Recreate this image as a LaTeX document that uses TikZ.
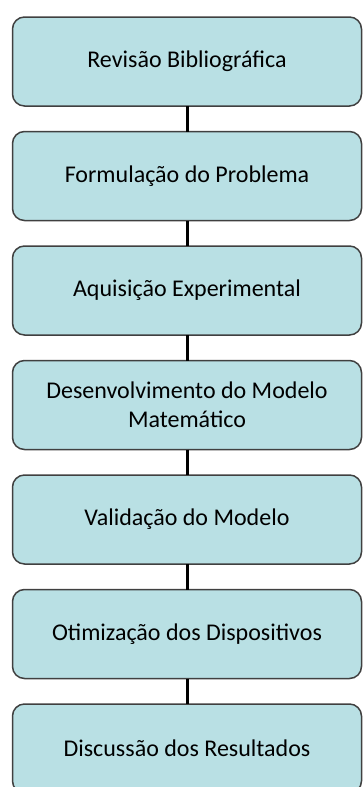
\documentclass[tikz,border=0pt]{standalone}
\usepackage{fontspec}
\setmainfont{Carlito}
\usepackage{xcolor}
\usepackage{tikz}
\usetikzlibrary{positioning}

\definecolor{boxfill}{RGB}{185,224,228}
\definecolor{boxline}{RGB}{64,64,64}

\begin{document}
\begin{tikzpicture}[
    x=1pt, y=1pt,
    stagenode/.style={rectangle, rounded corners=12pt, draw=boxline, line width=1.5pt, fill=boxfill, minimum width=349pt, minimum height=89pt, inner sep=0pt, outer sep=0pt, align=center, font=\fontsize{24}{29}\selectfont},
    linkline/.style={line width=3pt, draw=black},
]
\clip (0,0) rectangle (363,-787);
\node[stagenode](rev) at (187,-61.5){Revisão Bibliográfica};
\node[stagenode](form)[below = 25.5pt of rev]{Formulação do Problema};
\node[stagenode](aqui)[below = 25.5pt of form]{Aquisição Experimental};
\node[stagenode](desen)[below = 25.5pt of aqui]{Desenvolvimento do Modelo\\Matemático};
\node[stagenode](valid)[below = 25.5pt of desen]{Validação do Modelo};
\node[stagenode](otim)[below = 25.5pt of valid]{Otimização dos Dispositivos};
\node[stagenode](disc)[below = 25.5pt of otim]{Discussão dos Resultados};
\draw[linkline] (rev) -- (form);
\draw[linkline] (form) -- (aqui);
\draw[linkline] (aqui) -- (desen);
\draw[linkline] (desen) -- (valid);
\draw[linkline] (valid) -- (otim);
\draw[linkline] (otim) -- (disc);
\end{tikzpicture}
\end{document}
